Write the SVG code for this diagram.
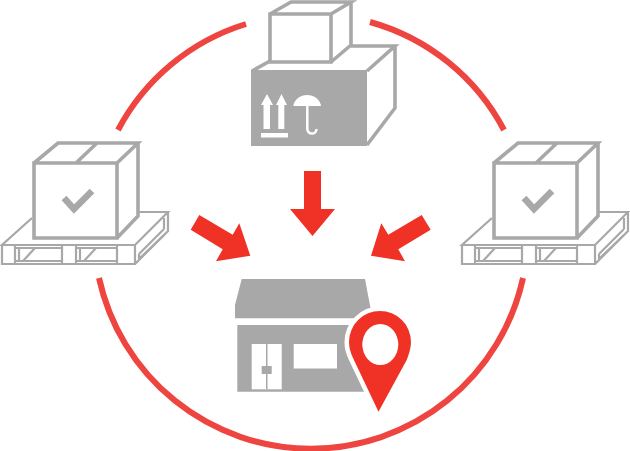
<svg xmlns="http://www.w3.org/2000/svg" width="630" height="451" viewBox="0 0 630 451">
<style>
.ring{fill:none;stroke:#ee4540;stroke-width:6}
.arrow{fill:#f03226}
.ln{fill:none;stroke:#a8a8a8;stroke-width:3.600;stroke-linejoin:miter}
.thin{fill:none;stroke:#a8a8a8;stroke-width:2.200}
.gr{fill:#a8a8a8}
.wh{fill:#fff}
</style>
<defs>
<g id="pallet-box">
<path class="thin" d="M32 218L2 245H135L168 212H138M2 245V264H135V245M135 264L168 231V212"/>
<path class="thin" d="M15 245V264M62 245V264M76 245V264M117 245V264M15 248H62V261H15M76 248H117V261H76M19 248V261M23 261L35 248M80 248V261M84 261L96 248M139 254L164 229M139 259L164 235M139 254V259M164 218V229"/>
<path class="ln" d="M34 163H117V238H34ZM34 163L58 143H138L117 163M138 143V216L117 238M97 143L76 163"/>
<path d="M64 198L74 209L92 191" fill="none" stroke="#a8a8a8" stroke-width="6.500"/>
</g>
</defs>
<g id="connectors">
<path class="ring" d="M246 24A217 217 0 0 0 118 130"/>
<path class="ring" d="M370 22A217 217 0 0 1 504 130"/>
<path class="ring" d="M99 278A217 217 0 0 0 523 278"/>
<polygon class="arrow" points="304,171 321,171 321,209 335,209 312.500,236 290,209 304,209"/>
<polygon class="arrow" points="199.300,215 232.700,234.700 239.300,223.300 250.300,255.700 216,261.300 222.700,249.300 190.700,229.700"/>
<polygon class="arrow" points="421.700,215 388.300,234.700 381.300,223.300 371,255.700 405,261.300 398.300,249.300 430.700,229.700"/>
</g>
<g id="box-left"><use href="#pallet-box"/></g>
<g id="box-right"><use href="#pallet-box" x="460"/></g>
<g id="boxes-top">
<path class="ln" d="M270 14H331V62H270ZM270 14L291 2H351L331 14M351 2V45L331 62"/>
<path class="ln" d="M270 61L252 71M351 46H395L367 71M395 46V108L367 145"/>
<rect class="gr" x="251" y="70" width="116" height="76"/>
<path class="wh" d="M261 105L267 94L273 105H270V129H263.500V105ZM276 105L281.500 94L287 105H284.300V129H278.300V105ZM261 133H288V137.500H261Z"/>
<path class="wh" d="M293.300 106A14 13 0 0 1 321 106Z"/>
<path d="M307.300 105V129A4.500 4.500 0 0 0 316.500 129" fill="none" stroke="#fff" stroke-width="2.500"/>
</g>
<g id="store">
<polygon class="gr" points="241.700,279 365,279 372,316 372,318.300 235,318.300 235,305"/>
<polygon class="gr" points="237.300,325 358,325 364,391.700 237.300,391.700"/>
<rect class="wh" x="251.700" y="344" width="30" height="45.300"/>
<rect class="gr" x="266" y="344" width="1.500" height="45.300"/>
<rect class="gr" x="261.700" y="366" width="10" height="8"/>
<rect class="wh" x="293.700" y="344" width="43.300" height="24.500"/>
<path d="M380 311A31 31 0 0 1 411 342C411 348 409 354 406.700 360L378.500 411.700L353 358C350.500 353 349 347 349 342A31 31 0 0 1 380 311Z" fill="#f03226" stroke="#fff" stroke-width="9" paint-order="stroke"/>
<ellipse class="wh" cx="380.300" cy="344.500" rx="18" ry="20.500"/>
</g>
</svg>
